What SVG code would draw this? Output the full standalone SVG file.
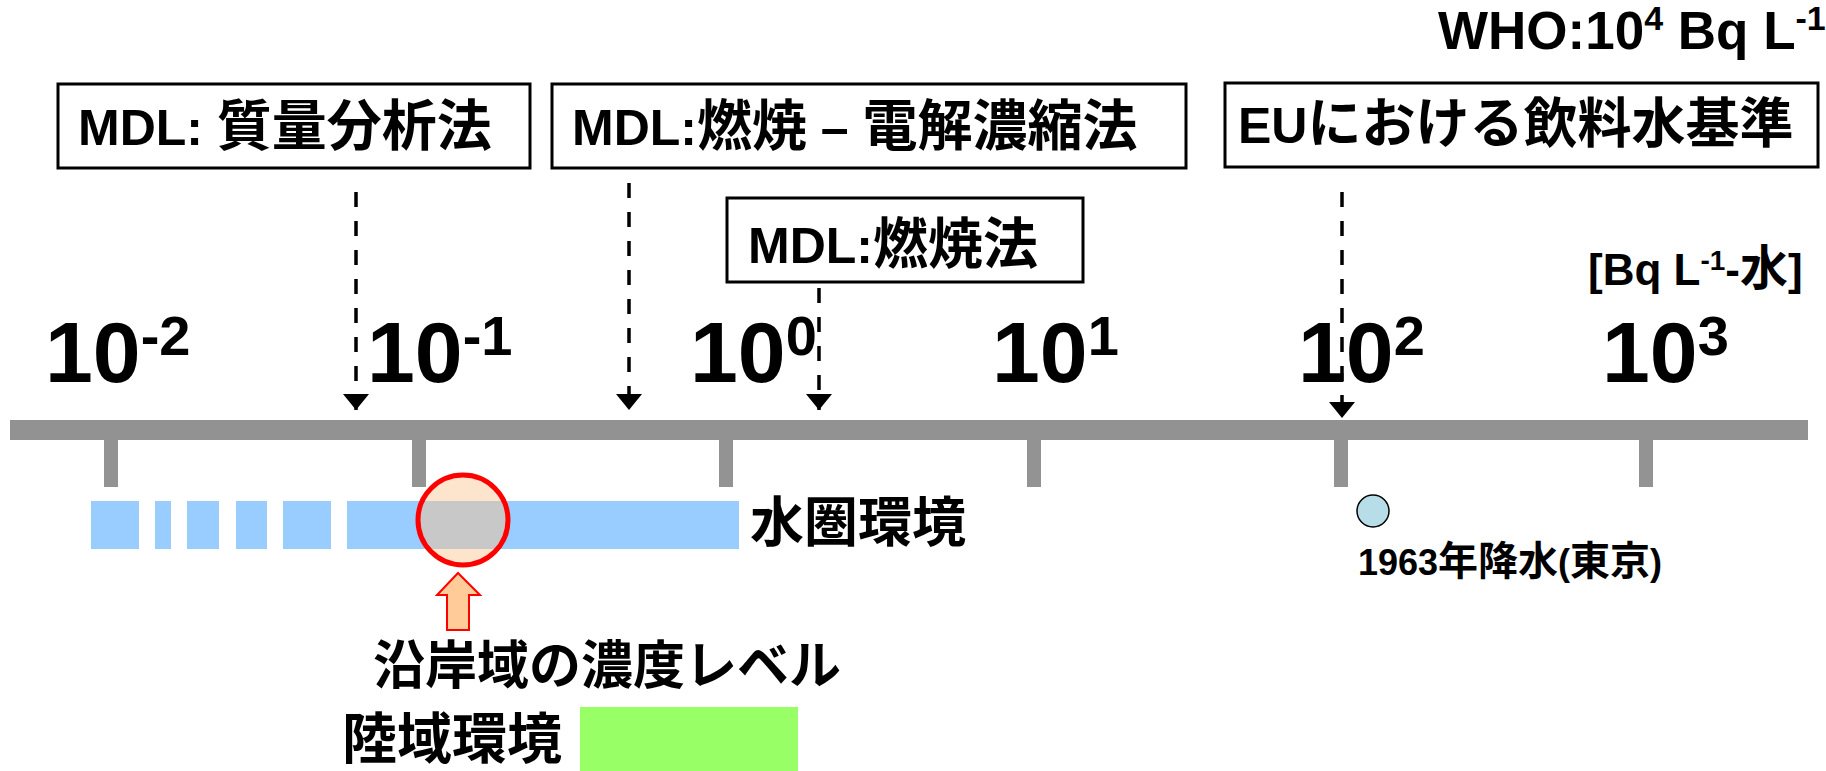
<svg xmlns="http://www.w3.org/2000/svg" width="1826" height="771" viewBox="0 0 1826 771">
<style>
text{font-family:"Liberation Sans","Noto Sans CJK JP",sans-serif;font-weight:bold;fill:#000}
.box{fill:#fff;stroke:#000;stroke-width:3}
.bt{font-size:50px}
.j{font-size:55px}
.big{font-size:86px}
.sup{font-size:56px}
.jp{font-family:"Noto Sans CJK JP",sans-serif}
.dash{stroke:#000;stroke-width:3.5;stroke-dasharray:15 14;fill:none;marker-end:url(#ah)}
.tick{fill:#939393}
.blue{fill:#99CCFF}
</style>
<defs>
<marker id="ah" markerUnits="userSpaceOnUse" markerWidth="26" markerHeight="16" refX="13" refY="16" orient="0" viewBox="0 0 26 16">
<path d="M0,0 L26,0 L13,16 Z" fill="#000"/>
</marker>
<clipPath id="cc"><circle cx="463" cy="520" r="45"/></clipPath>
</defs>

<g id="axis">
<rect x="10" y="420" width="1798" height="20" fill="#929292"/>
<rect class="tick" x="104" y="440" width="14" height="47"/>
<rect class="tick" x="412" y="440" width="14" height="47"/>
<rect class="tick" x="719" y="440" width="14" height="47"/>
<rect class="tick" x="1027" y="440" width="14" height="47"/>
<rect class="tick" x="1334" y="440" width="14" height="47"/>
<rect class="tick" x="1639" y="440" width="14" height="47"/>
</g>

<g id="scale-labels">
<text class="big" x="45" y="382">10<tspan class="sup" dy="-27">-2</tspan></text>
<text class="big" x="367" y="382">10<tspan class="sup" dy="-27">-1</tspan></text>
<text class="big" x="690" y="382">10<tspan class="sup" dy="-27">0</tspan></text>
<text class="big" x="992" y="382">10<tspan class="sup" dy="-27">1</tspan></text>
<text class="big" x="1298" y="382">10<tspan class="sup" dy="-27">2</tspan></text>
<text class="big" x="1602" y="382">10<tspan class="sup" dy="-27">3</tspan></text>
</g>

<g id="who">
<text x="1438" y="49" font-size="53">WHO:10<tspan font-size="34" dy="-19">4</tspan><tspan dy="19"> Bq L</tspan><tspan font-size="34" dy="-19">-1</tspan></text>
</g>

<g id="unit">
<text x="1588" y="285" font-size="44">[Bq L<tspan font-size="28" dy="-15">-1</tspan><tspan dy="15">-</tspan><tspan font-size="48">水</tspan>]</text>
</g>

<g id="box-mass">
<rect class="box" x="58" y="84" width="472" height="84"/>
<text class="bt" x="78" y="145">MDL: <tspan class="j">質量分析法</tspan></text>
</g>

<g id="box-electrolysis">
<rect class="box" x="552" y="84" width="634" height="84"/>
<text class="bt" x="572" y="145">MDL:<tspan class="j">燃焼</tspan> – <tspan class="j">電解濃縮法</tspan></text>
</g>

<g id="box-combustion">
<rect class="box" x="727" y="198" width="356" height="84"/>
<text class="bt" x="748" y="263">MDL:<tspan class="j">燃焼法</tspan></text>
</g>

<g id="box-eu">
<rect class="box" x="1225" y="83" width="593" height="84"/>
<text class="bt" x="1238" y="143">EU<tspan font-size="54">における飲料水基準</tspan></text>
</g>

<g id="connectors">
<path class="dash" d="M356,192 V410"/>
<path class="dash" d="M629,183 V410"/>
<path class="dash" d="M819,288 V410"/>
<path class="dash" d="M1342,192 V418"/>
</g>

<g id="hydrosphere">
<rect class="blue" x="91" y="501" width="48" height="48"/>
<rect class="blue" x="155" y="501" width="16" height="48"/>
<rect class="blue" x="187" y="501" width="32" height="48"/>
<rect class="blue" x="236" y="501" width="31" height="48"/>
<rect class="blue" x="283" y="501" width="48" height="48"/>
<rect class="blue" x="347" y="501" width="392" height="48"/>
<text class="jp" x="750" y="542" font-size="54">水圏環境</text>
</g>

<g id="coastal">
<circle cx="463" cy="520" r="45" fill="#FDE4CC"/>
<rect x="410" y="501" width="110" height="48" fill="#C8C8C8" clip-path="url(#cc)"/>
<circle cx="463" cy="520" r="45" fill="none" stroke="#FF0000" stroke-width="5"/>
<polygon points="458,573 480,595 469,595 469,630 447,630 447,595 437,595" fill="#FFCC99" stroke="#FF0000" stroke-width="2"/>
<text class="jp" x="373" y="684" font-size="52">沿岸域の濃度レベル</text>
</g>

<g id="land">
<text class="jp" x="342" y="758" font-size="55">陸域環境</text>
<rect x="580" y="707" width="218" height="64" fill="#99FF66"/>
</g>

<g id="rain1963">
<circle cx="1373" cy="511" r="16" fill="#B7DEE8" stroke="#000" stroke-width="1.5"/>
<text x="1358" y="575" font-size="36">1963<tspan font-size="40">年降水</tspan>(<tspan font-size="40">東京</tspan>)</text>
</g>
</svg>
